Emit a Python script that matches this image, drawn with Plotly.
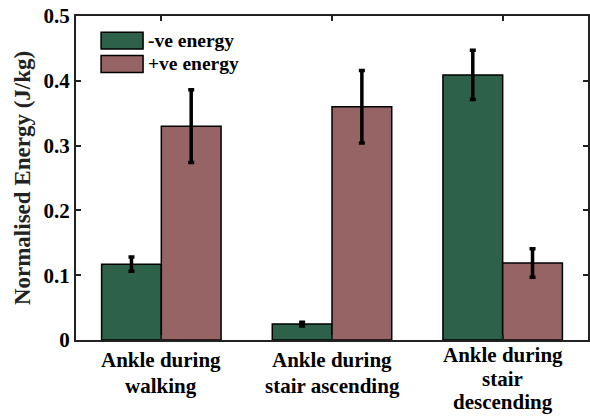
import plotly.graph_objects as go

categories = ["Ankle during<br>walking", "Ankle during<br>stair ascending", "Ankle during<br>stair<br>descending"]
series_names = ["-ve energy", "+ve energy"]
neg_values = [0.117, 0.0245, 0.409]
neg_errors = [0.011, 0.003, 0.038]
pos_values = [0.330, 0.360, 0.119]
pos_errors = [0.056, 0.056, 0.022]
y_ticks = [0, 0.1, 0.2, 0.3, 0.4, 0.5]
y_tick_labels = ["0", "0.1", "0.2", "0.3", "0.4", "0.5"]

colors = ["#2E6149", "#966465"]
font_family = "Liberation Serif"

fig = go.Figure()
for name, vals, errs, col in [(series_names[0], neg_values, neg_errors, colors[0]),
                              (series_names[1], pos_values, pos_errors, colors[1])]:
    fig.add_trace(go.Bar(
        x=list(range(len(categories))), y=vals, name=name,
        marker=dict(color=col, line=dict(color="black", width=1.5)),
        error_y=dict(type="data", array=errs, visible=True, color="black", thickness=3.5, width=3),
        showlegend=False,
    ))

# custom legend patches (wide rectangles like the original)
leg_y = [0.924, 0.852]
for i, (name, col) in enumerate(zip(series_names, colors)):
    fig.add_shape(type="rect", xref="paper", yref="paper",
                  x0=0.049, x1=0.131, y0=leg_y[i] - 0.026, y1=leg_y[i] + 0.026,
                  fillcolor=col, line=dict(color="black", width=1.5))
    fig.add_annotation(xref="paper", yref="paper", x=0.136, y=leg_y[i], text="<b>%s</b>" % name,
                       showarrow=False, xanchor="left", yanchor="middle",
                       font=dict(family=font_family, size=19.5, color="black"))

# category labels, one annotation per line (tighter line spacing, like the original)
for ci, cat in enumerate(categories):
    lines = cat.split("<br>")
    first = 20 if len(lines) <= 2 else 15
    step = 26 if len(lines) <= 2 else 23.5
    for li, line in enumerate(lines):
        fig.add_annotation(xref="x", yref="y", x=ci, y=0, text="<b>%s</b>" % line,
                           showarrow=False, xanchor="center", yanchor="middle",
                           yshift=-(first + li * step),
                           font=dict(family=font_family, size=21, color="black"))

fig.update_layout(
    width=590, height=417,
    margin=dict(l=76, r=2, t=16, b=77),
    plot_bgcolor="white", paper_bgcolor="white",
    barmode="group", bargap=0.3, bargroupgap=0,
    showlegend=False,
    font=dict(family=font_family, size=20, color="black"),
    xaxis=dict(
        range=[-0.5, 2.5], automargin=False,
        tickvals=list(range(len(categories))),
        showticklabels=False,
        showline=True, linecolor="#222222", linewidth=2, mirror="ticks",
        ticks="inside", ticklen=5, tickwidth=2, tickcolor="#222222",
        showgrid=False, zeroline=False,
    ),
    yaxis=dict(
        range=[0, 0.5], automargin=False,
        tickvals=y_ticks, ticktext=["<b>%s</b>" % t for t in y_tick_labels],
        showline=True, linecolor="#222222", linewidth=2, mirror="ticks",
        ticks="inside", ticklen=5, tickwidth=2, tickcolor="#222222",
        tickfont=dict(family=font_family, size=21, color="black"),
        title=dict(text="<b>Normalised Energy (J/kg)</b>", font=dict(family=font_family, size=23, color="#222222"), standoff=6),
        showgrid=False, zeroline=False,
    ),
)

fig.write_html("out.html", config={"responsive": False, "displayModeBar": False},
               post_script="document.body.style.margin='0';document.body.style.overflow='hidden';")
